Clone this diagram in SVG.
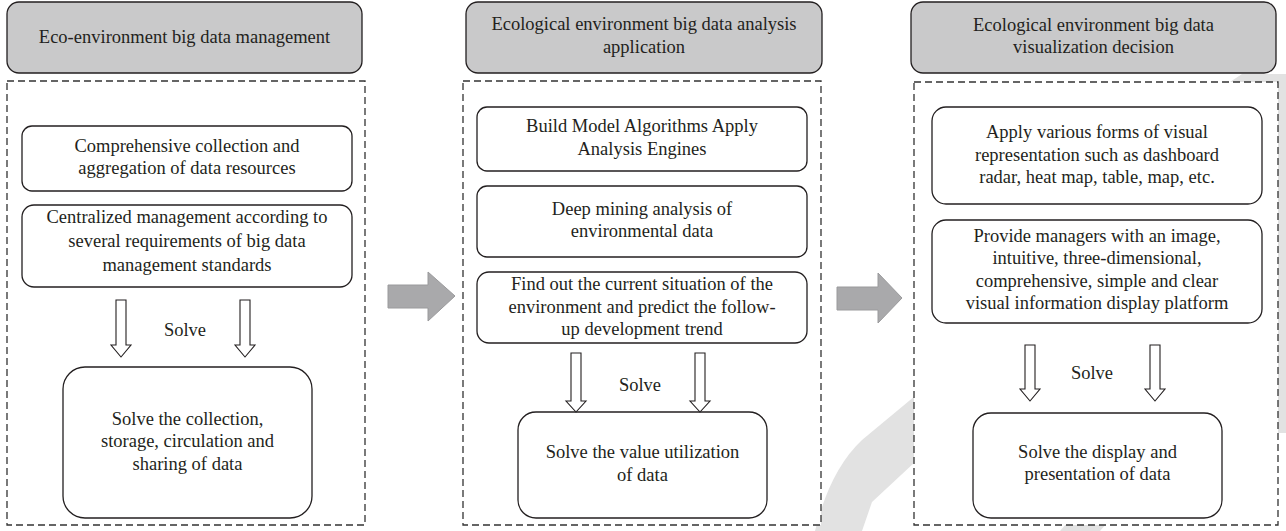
<svg xmlns="http://www.w3.org/2000/svg" width="1286" height="531" viewBox="0 0 1286 531">
<style>
text{font-family:"Liberation Serif","Times New Roman",serif;font-size:18.5px;fill:#231f20;text-anchor:middle}
.hdr{fill:#c9c9ca;stroke:#231f20;stroke-width:1.3}
.dash{fill:#fff;stroke:#333;stroke-width:1.3;stroke-dasharray:7,4}
.box{fill:#fff;stroke:#231f20;stroke-width:1.3}
.hol{fill:#fff;stroke:#231f20;stroke-width:1.1}
.big{fill:#a9a9ab;stroke:#9a9a9c;stroke-width:1}
.wm{fill:#e2e2e2}
</style>
<g id="watermark">
<path class="wm" d="M815,531 Q830,470 862,440 L915,396 L915,462 L872,502 L862,531 Z"/>
<path class="wm" d="M1230,82 L1242,74 L1286,74 L1286,433 L1276,433 L1276,82 Z"/>
<path class="wm" d="M1060,531 L1066,524 L1106,524 L1100,531 Z"/>
</g>
<g id="panel1">
<rect class="hdr" x="7" y="2" width="355" height="71" rx="12"/>
<text x="184.5" y="43">Eco-environment big data management</text>
<rect class="dash" x="7" y="81" width="358" height="444"/>
</g>
<g id="panel2">
<rect class="hdr" x="466" y="2" width="356" height="71" rx="12"/>
<text x="644" y="30">Ecological environment big data analysis</text>
<text x="644" y="53">application</text>
<rect class="dash" x="463" y="81" width="358" height="444"/>
</g>
<g id="panel3">
<rect class="hdr" x="911" y="2" width="365" height="71" rx="12"/>
<text x="1093.5" y="31">Ecological environment big data</text>
<text x="1093.5" y="53">visualization decision</text>
<rect class="dash" x="914" y="82" width="364" height="443"/>
</g>
<g id="node1a">
<rect class="box" x="22" y="126" width="330" height="65" rx="10"/>
<text x="187" y="152">Comprehensive collection and</text>
<text x="187" y="174">aggregation of data resources</text>
</g>
<g id="node1b">
<rect class="box" x="22" y="205" width="330" height="82" rx="12"/>
<text x="187" y="223">Centralized management according to</text>
<text x="187" y="247">several requirements of big data</text>
<text x="187" y="271">management standards</text>
</g>
<g id="node1c">
<rect class="box" x="63" y="367" width="249" height="151" rx="22"/>
<text x="187.5" y="425">Solve the collection,</text>
<text x="187.5" y="447">storage, circulation and</text>
<text x="187.5" y="470">sharing of data</text>
</g>
<g id="node2a">
<rect class="box" x="477" y="107" width="330" height="64" rx="10"/>
<text x="642" y="132">Build Model Algorithms Apply</text>
<text x="642" y="155">Analysis Engines</text>
</g>
<g id="node2b">
<rect class="box" x="477" y="186" width="330" height="71" rx="10"/>
<text x="642" y="215">Deep mining analysis of</text>
<text x="642" y="237">environmental data</text>
</g>
<g id="node2c">
<rect class="box" x="477" y="272" width="330" height="71" rx="12"/>
<text x="642" y="290">Find out the current situation of the</text>
<text x="642" y="313">environment and predict the follow-</text>
<text x="642" y="335">up development trend</text>
</g>
<g id="node2d">
<rect class="box" x="518" y="412" width="249" height="106" rx="18"/>
<text x="642.5" y="458">Solve the value utilization</text>
<text x="642.5" y="481">of data</text>
</g>
<g id="node3a">
<rect class="box" x="932" y="107" width="330" height="97" rx="14"/>
<text x="1097" y="138">Apply various forms of visual</text>
<text x="1097" y="161">representation such as dashboard</text>
<text x="1097" y="183">radar, heat map, table, map, etc.</text>
</g>
<g id="node3b">
<rect class="box" x="932" y="220" width="330" height="103" rx="14"/>
<text x="1097" y="242">Provide managers with an image,</text>
<text x="1097" y="264">intuitive, three-dimensional,</text>
<text x="1097" y="287">comprehensive, simple and clear</text>
<text x="1097" y="309">visual information display platform</text>
</g>
<g id="node3c">
<rect class="box" x="973" y="413" width="249" height="105" rx="18"/>
<text x="1097.5" y="458">Solve the display and</text>
<text x="1097.5" y="480">presentation of data</text>
</g>
<g id="connectors">
<path class="big" d="M388,285 L428,285 L428,272 L455,296 L428,321 L428,308 L388,308 Z"/>
<path class="big" d="M837,287 L878,287 L878,273 L902,298 L878,323 L878,310 L837,310 Z"/>
<path class="hol" d="M116,300 L126,300 L126,345 L131,345 L121,357 L111,345 L116,345 Z"/>
<path class="hol" d="M240,300 L250,300 L250,345 L255,345 L245,357 L235,345 L240,345 Z"/>
<text x="185" y="336">Solve</text>
<path class="hol" d="M571,353 L581,353 L581,401 L586,401 L576,412 L566,401 L571,401 Z"/>
<path class="hol" d="M695,353 L705,353 L705,401 L710,401 L700,412 L690,401 L695,401 Z"/>
<text x="640" y="391">Solve</text>
<path class="hol" d="M1025,345 L1035,345 L1035,389 L1040,389 L1030,401 L1020,389 L1025,389 Z"/>
<path class="hol" d="M1150,345 L1160,345 L1160,389 L1165,389 L1155,401 L1145,389 L1150,389 Z"/>
<text x="1092" y="379">Solve</text>
</g>
</svg>
